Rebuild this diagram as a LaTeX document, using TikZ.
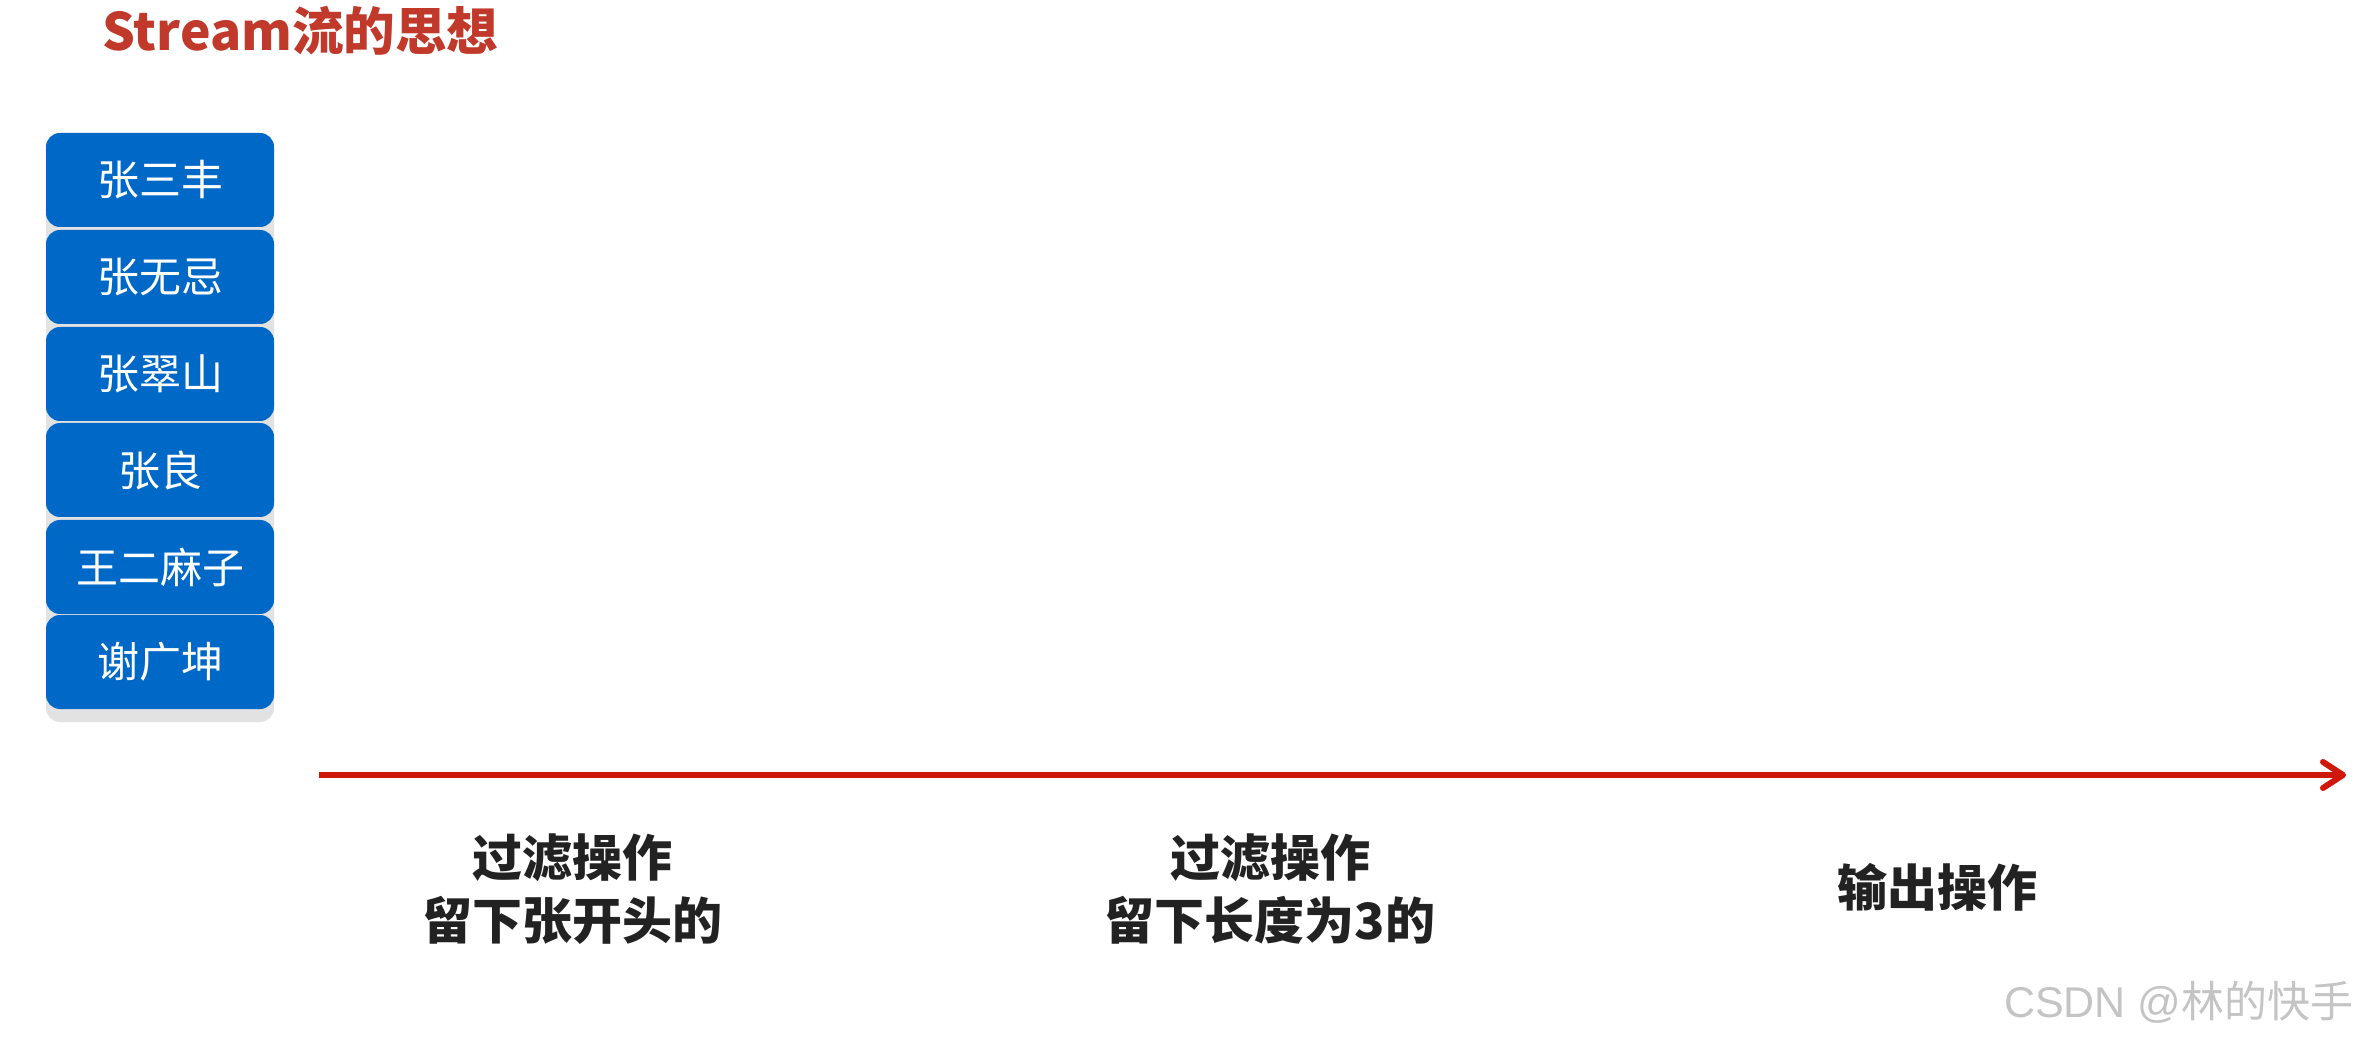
\documentclass[tikz,border=0pt]{standalone}
\usepackage{fontspec}
\usetikzlibrary{arrows.meta}
\newfontfamily\cjk{Noto Sans CJK SC}
\newfontfamily\wmlatin{Liberation Sans}
\definecolor{titlered}{HTML}{C0392B}
\definecolor{boxblue}{HTML}{0068C6}
\definecolor{shadowgray}{HTML}{E2E2E2}
\definecolor{arrowred}{HTML}{D0180A}
\definecolor{labelblack}{HTML}{222222}
\definecolor{wmgray}{HTML}{C4C4C4}
\tikzset{
  namebox/.style={rounded corners=7pt, fill=boxblue, draw=none,
    minimum width=114pt, minimum height=47pt, inner sep=0pt,
    text=white, font=\cjk\fontsize{21pt}{25pt}\selectfont},
  oplabel/.style={align=center, text=labelblack, inner sep=0pt,
    font=\cjk\bfseries\fontsize{25pt}{31.5pt}\selectfont},
  flowline/.style={draw=arrowred, line width=3pt,
    -{Straight Barb[length=10pt,width=13pt,round]}}
}
\begin{document}
\begin{tikzpicture}[x=0.5pt,y=-0.5pt]
\useasboundingbox (0,0) rectangle (2360,1042);
% title
\node[anchor=base west, inner sep=0pt, text=titlered,
      font=\cjk\bfseries\fontsize{25.8pt}{31pt}\selectfont] (title) at (102,51) {Stream流的思想};
% column background shadow
\fill[shadowgray, rounded corners=7pt] (46,133) rectangle (274,722);
% name boxes
\node[namebox] (n1) at (160,180) {\raisebox{1.5pt}{张三丰}};
\node[namebox] (n2) at (160,277) {\raisebox{1.5pt}{张无忌}};
\node[namebox] (n3) at (160,374) {\raisebox{1.5pt}{张翠山}};
\node[namebox] (n4) at (160,470) {\raisebox{1.5pt}{张良}};
\node[namebox] (n5) at (160,567) {\raisebox{1.5pt}{王二麻子}};
\node[namebox] (n6) at (160,662) {\raisebox{1.5pt}{谢广坤}};
% flow arrow
\coordinate (a0) at (319,775);
\coordinate (a1) at (2346,775);
\draw[flowline] (a0) -- (a1);
% operation labels
\node[oplabel] (op1) at (572,889) {过滤操作\\留下张开头的};
\node[oplabel] (op2) at (1270,889) {过滤操作\\留下长度为3的};
\node[oplabel] (op3) at (1937,887) {输出操作};
% watermark
\node[anchor=base east, inner sep=0pt, text=wmgray,
      font=\fontsize{21.5pt}{26pt}\selectfont] (wm) at (2354,1017) {{\wmlatin CSDN @}{\cjk 林的快手}};
\end{tikzpicture}
\end{document}
